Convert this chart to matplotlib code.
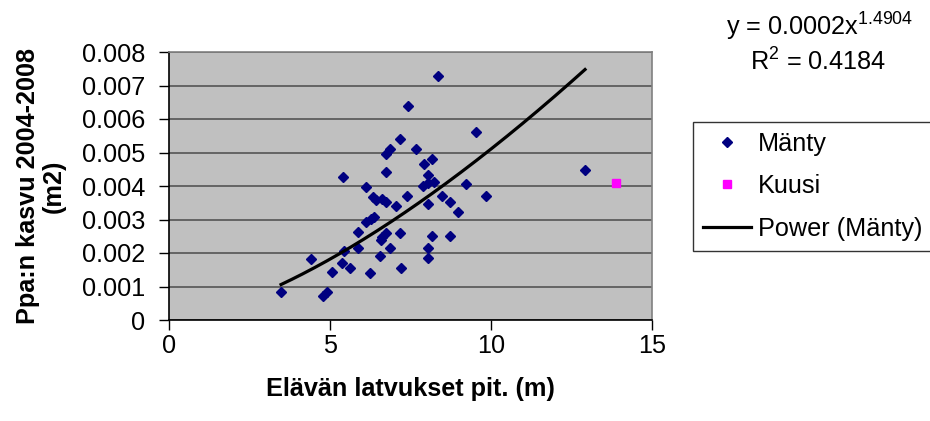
import numpy as np
import matplotlib
matplotlib.use("Agg")
import matplotlib.pyplot as plt
from matplotlib.ticker import FuncFormatter

plt.rcParams['font.family'] = ['Liberation Sans', 'DejaVu Sans']

# Mänty (x = elävän latvuksen pituus, y = ppa:n kasvu)
manty_x = [8.34, 7.41, 9.52, 7.17, 6.86, 6.73, 7.66, 8.16, 7.91, 6.73,
           5.41, 6.11, 8.03, 7.90, 8.03, 8.23, 9.22, 9.84, 7.40, 6.34,
           6.42, 6.60, 6.73, 7.05, 8.03, 8.47, 8.72, 8.97, 6.37, 6.26,
           6.13, 5.87, 6.73, 6.63, 6.57, 7.17, 8.16, 8.72, 5.43, 5.87,
           6.85, 8.03, 6.54, 8.03, 5.36, 5.61, 5.07, 6.23, 7.22, 4.42,
           3.48, 4.91, 4.79, 12.92]
manty_y = [0.00729, 0.00640, 0.00562, 0.00539, 0.00510, 0.00496, 0.00510, 0.00480, 0.00466, 0.00443,
           0.00426, 0.00397, 0.00433, 0.00401, 0.00410, 0.00413, 0.00406, 0.00371, 0.00371, 0.00366,
           0.00358, 0.00361, 0.00353, 0.00341, 0.00346, 0.00371, 0.00353, 0.00323, 0.00308, 0.00301,
           0.00293, 0.00264, 0.00261, 0.00249, 0.00239, 0.00259, 0.00252, 0.00252, 0.00206, 0.00214,
           0.00216, 0.00216, 0.00192, 0.00186, 0.00169, 0.00156, 0.00144, 0.00139, 0.00156, 0.00181,
           0.00084, 0.00084, 0.00073, 0.00448]

# Kuusi
kuusi_x = [13.88]
kuusi_y = [0.00410]

# power trendline y = a * x^b
trend_a = 0.000165
trend_b = 1.4904

fig = plt.figure(figsize=(9.3, 4.21), dpi=100)
ax = fig.add_axes([169/930, 1-320/421, (652-169)/930, (320-52)/421])
ax.set_facecolor('#C0C0C0')

fs = 18.2

ax.plot(manty_x, manty_y, linestyle='none', marker='D', markersize=5,
        color='#000080', label='Mänty', zorder=3)
ax.plot(kuusi_x, kuusi_y, linestyle='none', marker='s', markersize=5.6,
        color='#FF00FF', label='Kuusi', zorder=3)

tx = np.linspace(min(manty_x), max(manty_x), 200)
ax.plot(tx, trend_a * tx**trend_b, color='black', linewidth=2.3,
        label='Power (Mänty)', zorder=4)

ax.set_xlim(0, 15)
ax.set_ylim(0, 0.008)
ax.set_xticks([0, 5, 10, 15])
ax.set_yticks(np.arange(0, 0.0081, 0.001))
ax.yaxis.set_major_formatter(FuncFormatter(lambda v, p: '0' if v == 0 else f'{v:.3f}'))
ax.grid(axis='y', color='#555555', linewidth=1.2)
ax.set_axisbelow(True)

for s in ['top', 'right']:
    ax.spines[s].set_color('#808080')
    ax.spines[s].set_linewidth(1.2)
for s in ['left', 'bottom']:
    ax.spines[s].set_color('black')
    ax.spines[s].set_linewidth(1.2)

ax.tick_params(axis='both', direction='out', length=7, width=1, labelsize=fs)
ax.tick_params(axis='y', pad=10)
ax.tick_params(axis='x', pad=3)

ax.set_xlabel('Elävän latvukset pit. (m)', fontsize=fs, fontweight='bold', labelpad=14)
ax.set_ylabel('Ppa:n kasvu 2004-2008\n(m2)', fontsize=fs, fontweight='bold',
              labelpad=12, linespacing=1.05)

fig.text(820/930, 1-27/421, r'y = 0.0002x$^{\mathregular{1.4904}}$', fontsize=fs,
         ha='center', va='center')
fig.text(818/930, 1-62/421, r'R$^{\mathregular{2}}$ = 0.4184', fontsize=fs,
         ha='center', va='center')

leg = fig.legend(loc='upper left', bbox_to_anchor=(693/930, 1-122/421),
                 borderaxespad=0, fontsize=fs, frameon=True, fancybox=False,
                 handlelength=1.9, handletextpad=0.28, borderpad=0.4,
                 labelspacing=0.72, numpoints=1)
leg.get_frame().set_edgecolor('black')
leg.get_frame().set_linewidth(1.0)

fig.savefig('out.png', dpi=100)
